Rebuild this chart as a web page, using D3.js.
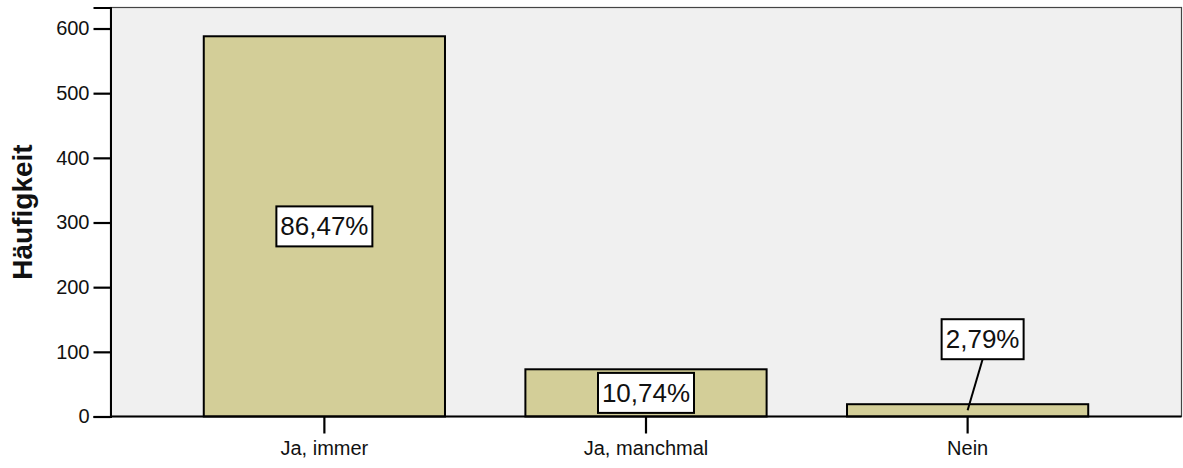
<!DOCTYPE html>
<html>
<head>
<meta charset="utf-8">
<script src="https://cdn.jsdelivr.net/npm/d3@7"></script>
<style>
  body { margin: 0; background: #fff; }
  text { font-family: "Liberation Sans", Arial, sans-serif; }
</style>
</head>
<body>
<div id="chart"></div>
<script>
"use strict";

var categories = ['Ja, immer', 'Ja, manchmal', 'Nein'];
var counts = [588, 73, 19];
var percents = ['86,47%', '10,74%', '2,79%'];
var yTicks = [0, 100, 200, 300, 400, 500, 600];

var barColor = 'rgb(211,206,152)';
var plotBg = 'rgb(240,240,240)';

var plotLeft = 110.5, plotRight = 1181.5, plotTop = 7.5, plotBottom = 416.5;

var svg = d3.select('#chart').append('svg')
  .attr('width', 1183)
  .attr('height', 468);

var x = d3.scaleBand()
  .domain(categories)
  .range([plotLeft, plotRight])
  .paddingInner(0.25)
  .paddingOuter(0.29);

var y = d3.scaleLinear()
  .domain([0, 632.5])
  .range([plotBottom, plotTop]);

// plot background + frame
svg.append('rect')
  .attr('x', plotLeft).attr('y', plotTop)
  .attr('width', plotRight - plotLeft).attr('height', plotBottom - plotTop)
  .attr('fill', plotBg)
  .attr('stroke', '#444')
  .attr('stroke-width', 1.2);

// bars
svg.selectAll('rect.bar')
  .data(counts)
  .enter().append('rect')
  .attr('class', 'bar')
  .attr('x', function(d, i) { return x(categories[i]); })
  .attr('y', function(d) { return y(d); })
  .attr('width', x.bandwidth())
  .attr('height', function(d) { return plotBottom - y(d); })
  .attr('fill', barColor)
  .attr('stroke', '#000')
  .attr('stroke-width', 2);

// axes
var yAxis = svg.append('g')
  .attr('transform', 'translate(' + plotLeft + ',0)')
  .call(d3.axisLeft(y).tickValues(yTicks).tickSize(17).tickPadding(4));

var xAxis = svg.append('g')
  .attr('transform', 'translate(0,' + plotBottom + ')')
  .call(d3.axisBottom(x).tickSize(17).tickPadding(7).tickSizeOuter(0));

[yAxis, xAxis].forEach(function(a) {
  a.select('.domain').attr('stroke', '#000').attr('stroke-width', 2);
  a.selectAll('.tick line').attr('stroke', '#000').attr('stroke-width', 2.2);
  a.selectAll('.tick text')
    .attr('fill', '#111')
    .attr('font-size', 20)
    .style('font-family', '"Liberation Sans", Arial, sans-serif');
});
xAxis.select('.domain').attr('d', 'M' + plotLeft + ',0H' + plotRight);

svg.append('text')
  .attr('transform', 'translate(32,' + ((plotTop + plotBottom) / 2) + ') rotate(-90)')
  .attr('text-anchor', 'middle')
  .attr('font-size', 28)
  .attr('font-weight', 'bold')
  .attr('fill', '#111')
  .text('Häufigkeit');

// percentage labels
var boxW = 96, boxH = 40;
svg.selectAll('g.lbl')
  .data(counts)
  .enter().append('g')
  .attr('class', 'lbl')
  .each(function(d, i) {
    var g = d3.select(this);
    var cx = x(categories[i]) + x.bandwidth() / 2;
    var barH = plotBottom - y(d);
    var cy = (y(d) + plotBottom) / 2;
    var w = percents[i].length < 6 ? 82 : boxW;
    if (barH < boxH) {
      // label lifted above a short bar, with a leader line
      var lx = cx + 15, ly = y(d) - 65;
      g.append('line')
        .attr('x1', lx).attr('y1', ly + boxH / 2)
        .attr('x2', cx).attr('y2', y(d) + 6)
        .attr('stroke', '#000').attr('stroke-width', 2);
      cx = lx; cy = ly;
    }
    g.append('rect')
      .attr('x', cx - w / 2).attr('y', cy - boxH / 2)
      .attr('width', w).attr('height', boxH)
      .attr('fill', '#fff')
      .attr('stroke', '#000').attr('stroke-width', 2);
    g.append('text')
      .attr('x', cx).attr('y', cy + 9)
      .attr('text-anchor', 'middle')
      .attr('font-size', 26)
      .attr('fill', '#111')
      .text(percents[i]);
  });
</script>
</body>
</html>
